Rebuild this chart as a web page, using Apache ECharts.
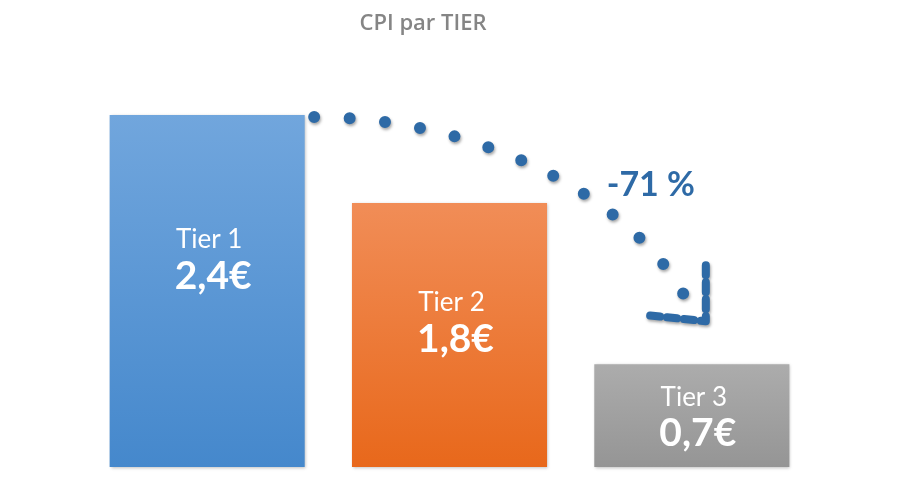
<!DOCTYPE html>
<html><head><meta charset="utf-8">
<script src="https://cdn.jsdelivr.net/npm/echarts@6/dist/echarts.min.js"></script>
<style>html,body{margin:0;padding:0;background:#fff}#c{width:900px;height:480px}</style>
</head><body><div id="c"></div>
<script>
var categories = ['Tier 1', 'Tier 2', 'Tier 3'];
var values = [2.4, 1.8, 0.7];
var valueLabels = ['2,4€', '1,8€', '0,7€'];
var titleText = 'CPI par TIER';

var gradients = [
  ['#71A6DD', '#4588CC'],
  ['#F18D57', '#E8681B'],
  ['#ACACAC', '#959595']
];
var labelDy = [-31, -12, 2];

var chart = echarts.init(document.getElementById('c'));
var FONT = 'Lato, "Open Sans", sans-serif';

var data = values.map(function (v, i) {
  return {
    value: v,
    itemStyle: {
      color: new echarts.graphic.LinearGradient(0, 0, 0, 1, [
        { offset: 0, color: gradients[i][0] },
        { offset: 1, color: gradients[i][1] }
      ]),
      shadowColor: 'rgba(0,0,0,0.25)', shadowBlur: 3, shadowOffsetX: 1, shadowOffsetY: 1
    },
    label: {
      show: true, position: 'inside', offset: [2, labelDy[i]],
      formatter: '{a|' + categories[i] + '}\n{b|' + valueLabels[i] + '}',
      rich: {
        a: { fontSize: 26, color: '#fff', fontFamily: FONT, lineHeight: 32 },
        b: { fontSize: 39, color: '#fff', fontFamily: FONT, fontWeight: 'bold', lineHeight: 40, padding: [0, 0, 0, 8] }
      }
    }
  };
});

chart.setOption({
  backgroundColor: '#fff',
  animation: false,
  title: {
    text: titleText, left: 418, top: 8, textAlign: 'center',
    textStyle: { color: '#858585', fontSize: 22, fontWeight: 600, fontFamily: '"Open Sans", sans-serif' }
  },
  grid: { left: 86, right: 87, top: 27, bottom: 13 },
  xAxis: { type: 'category', data: categories, show: false },
  yAxis: { type: 'value', min: 0, max: 3, show: false },
  series: [{ type: 'bar', data: data, barCategoryGap: '19.5%' }]
});

// Decorative dotted arrow, anchored to the bars through the axes
var p1 = chart.convertToPixel({ seriesIndex: 0 }, [0, values[0]]);
var p3 = chart.convertToPixel({ seriesIndex: 0 }, [2, values[2]]);
var halfW = 97;
var sx = p1[0] + halfW + 10, sy = p1[1] + 2;
var cx = p3[0] + 14, cy = p3[1] - 43;
var ex = cx - 18, ey = cy - 19;
var change = Math.round((values[2] - values[0]) / values[0] * 100);
var blue = '#2E6AA6';
var shadow = { shadowColor: 'rgba(0,0,0,0.35)', shadowBlur: 3, shadowOffsetX: 1, shadowOffsetY: 2 };

chart.setOption({
  graphic: [
    {
      type: 'bezierCurve', silent: true,
      shape: { x1: sx, y1: sy, cpx1: sx + 170, cpy1: sy, cpx2: ex - 50, cpy2: sy + 85, x2: ex, y2: ey },
      style: Object.assign({ stroke: blue, fill: null, lineWidth: 12, lineCap: 'round', lineDash: [0, 35.5] }, shadow)
    },
    {
      type: 'polyline', silent: true,
      shape: { points: [[cx, cy - 56], [cx, cy], [cx - 58, cy - 6]] },
      style: Object.assign({ stroke: blue, fill: null, lineWidth: 8, lineCap: 'round', lineJoin: 'round', lineDash: [10, 7] }, shadow)
    },
    {
      type: 'text', silent: true,
      x: cx - 55, y: cy - 136,
      style: {
        text: change + ' %', fill: blue, fontSize: 34, fontWeight: 'bold', fontFamily: FONT,
        textAlign: 'center', textVerticalAlign: 'middle',
        shadowColor: 'rgba(0,0,0,0.2)', shadowBlur: 2, shadowOffsetY: 1
      }
    }
  ]
});
</script>
</body></html>
